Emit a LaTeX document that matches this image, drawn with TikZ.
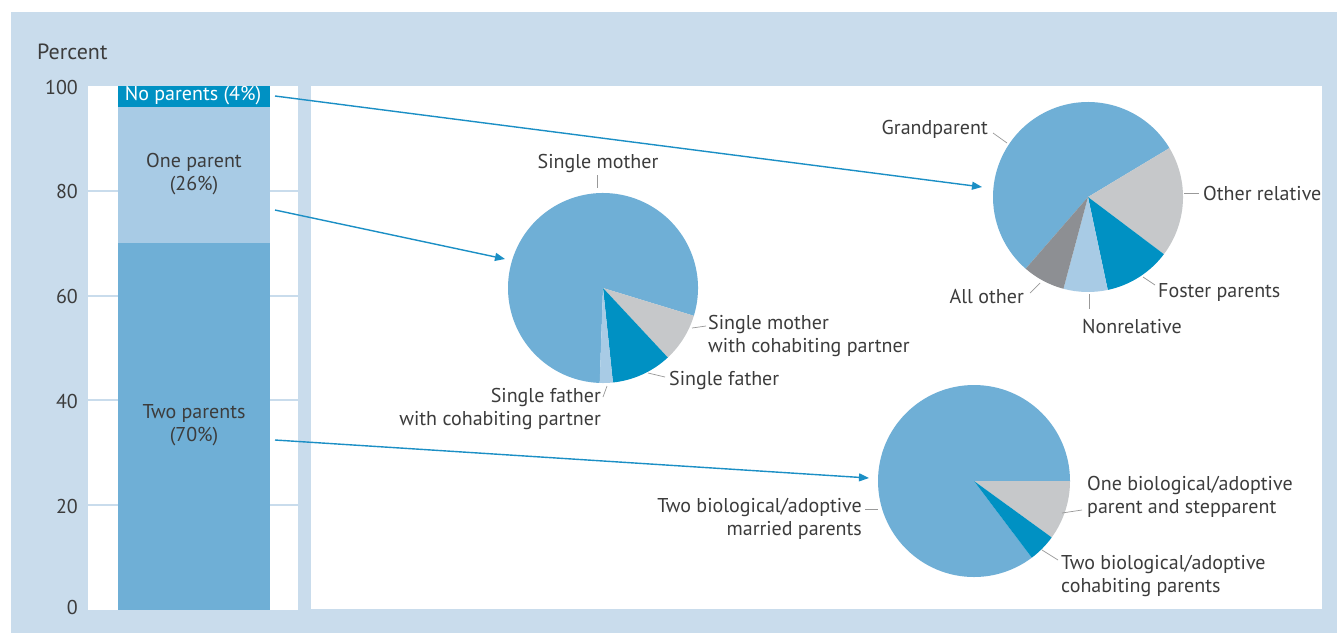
\documentclass[tikz,border=0pt]{standalone}
\usepackage{fontspec}
\setmainfont{PT Sans}
\usetikzlibrary{arrows.meta}
\definecolor{bg}{HTML}{C9DCEC}
\definecolor{midblue}{HTML}{6FAFD6}
\definecolor{lightblue}{HTML}{A8CBE5}
\definecolor{darkblue}{HTML}{0091C3}
\definecolor{lgray}{HTML}{C6C8CA}
\definecolor{dgray}{HTML}{8D8F93}
\definecolor{txt}{HTML}{3C3C3C}
\definecolor{arrowc}{HTML}{1B8FC5}
\newcommand\pieslice[5]{\fill[#5] (#1) -- ++(#2:#4) arc[start angle=#2, end angle=#3, radius=#4] -- cycle;}
\begin{document}
\begin{tikzpicture}[x=1pt,y=1pt, font=\fontsize{20}{22.5}\selectfont,
 lbl/.style={text=txt, inner sep=0pt},
 lead/.style={draw=gray!80, line width=0.7pt},
 grid/.style={draw=bg, line width=2pt},
 barseg/.style={minimum width=152pt, inner sep=0pt, anchor=north west, draw=none},
 pienode/.style={circle, minimum size=190pt, inner sep=0pt},
 conn/.style={draw=arrowc, line width=1.4pt, -{Triangle[length=10pt,width=8pt]}}]
\useasboundingbox (0,0) rectangle (1337,-633);
\fill[white] (0,0) rectangle (1337,-633);
\fill[bg] (11,-12) rectangle (1337,-633);
\fill[white] (88,-86) rectangle (298,-610);
\fill[white] (311,-86) rectangle (1322,-609);
% grid
\foreach \p in {20,40,60,80} \draw[grid] (88,{-(610-5.24*\p)}) -- (298,{-(610-5.24*\p)});
% axis labels
\node[lbl, anchor=west, font=\fontsize{22}{24}\selectfont] (pct) at (37,-52) {Percent};
\node[lbl, anchor=east] (t100) at (78,-87) {100};
\node[lbl, anchor=east] (t80) at (78,-191) {80};
\node[lbl, anchor=east] (t60) at (78,-296) {60};
\node[lbl, anchor=east] (t40) at (78,-401) {40};
\node[lbl, anchor=east] (t20) at (78,-506) {20};
\node[lbl, anchor=east] (t0) at (78,-607) {0};
% bar
\node[barseg, fill=darkblue, minimum height=21pt] (barNo) at (118,-86) {};
\node[barseg, fill=lightblue, minimum height=136pt] (barOne) at (118,-107) {};
\node[barseg, fill=midblue, minimum height=367pt] (barTwo) at (118,-243) {};
\node[inner sep=0pt, text=white] (lNo) at (193,-96) {No parents (4\%)};
\node[lbl, align=center] (lOne) at (194,-174) {One parent\\(26\%)};
\node[lbl, align=center] (lTwo) at (194,-425) {Two parents\\(70\%)};
% pies
\node[pienode] (pieA) at (603,-288) {};
\node[pienode] (pieB) at (1088,-197) {};
\node[pienode] (pieC) at (974,-481) {};
\pieslice{pieA.center}{-17}{268}{95pt}{midblue}
\pieslice{pieA.center}{-47}{-17}{95pt}{lgray}
\pieslice{pieA.center}{-84}{-47}{95pt}{darkblue}
\pieslice{pieA.center}{-92}{-84}{95pt}{lightblue}
\pieslice{pieB.center}{31}{229}{95pt}{midblue}
\pieslice{pieB.center}{-37}{31}{95pt}{lgray}
\pieslice{pieB.center}{-78}{-37}{95pt}{darkblue}
\pieslice{pieB.center}{-105}{-78}{95pt}{lightblue}
\pieslice{pieB.center}{-131}{-105}{95pt}{dgray}
\pieslice{pieC.center}{0}{307}{96pt}{midblue}
\pieslice{pieC.center}{-36}{0}{96pt}{lgray}
\pieslice{pieC.center}{-53}{-36}{96pt}{darkblue}
% arrows
\coordinate (s1) at (275,-96);
\coordinate (e1) at (982,-187);
\coordinate (s2) at (275,-210);
\coordinate (e2) at (505,-259);
\coordinate (s3) at (275,-440);
\coordinate (e3) at (869,-478);
\draw[conn] (s1) -- (e1);
\draw[conn] (s2) -- (e2);
\draw[conn] (s3) -- (e3);
% pie A labels
\node[lbl] (aSM) at (598,-163) {Single mother};
\draw[lead] (597,-175) -- (597,-188);
\node[lbl, anchor=west, align=left] (aSMC) at (708,-336) {Single mother\\with cohabiting partner};
\draw[lead] (692,-328) -- (706,-326);
\node[lbl, anchor=west] (aSF) at (669,-380) {Single father};
\draw[lead] (648,-373) -- (665,-377);
\node[lbl, anchor=east, align=right] (aSFC) at (601,-409) {Single father\\with cohabiting partner};
\draw[lead] (603,-397) -- (607,-386);
% pie B labels
\node[lbl, anchor=east] (bGP) at (988,-129) {Grandparent};
\draw[lead] (993,-133) -- (1007,-143);
\node[lbl, anchor=west] (bOR) at (1203,-193) {Other relative};
\draw[lead] (1184,-193) -- (1199,-193);
\node[lbl, anchor=west] (bFP) at (1158,-292) {Foster parents};
\draw[lead] (1143,-277) -- (1155,-285);
\node[lbl] (bNR) at (1132,-326) {Nonrelative};
\draw[lead] (1089,-294) -- (1089,-309);
\node[lbl, anchor=east] (bAO) at (1024,-296) {All other};
\draw[lead] (1030,-293) -- (1040,-283);
% pie C labels
\node[lbl, anchor=east, align=right] (cMar) at (862,-519) {Two biological/adoptive\\married parents};
\draw[lead] (865,-509) -- (878,-509);
\node[lbl, anchor=west, align=left] (cStep) at (1087,-497) {One biological/adoptive\\parent and stepparent};
\draw[lead] (1062,-513) -- (1082,-510);
\node[lbl, anchor=west, align=left] (cCoh) at (1061,-576) {Two biological/adoptive\\cohabiting parents};
\draw[lead] (1042,-550) -- (1058,-560);
\end{tikzpicture}
\end{document}
